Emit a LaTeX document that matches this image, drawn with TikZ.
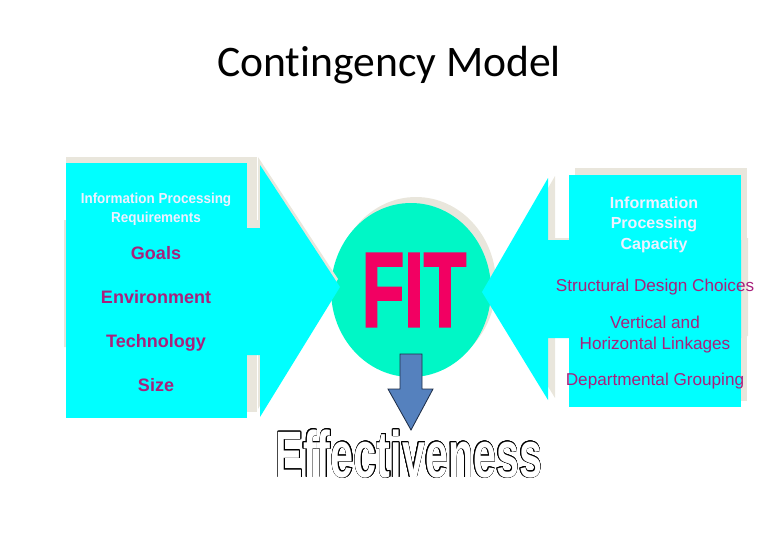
\documentclass[tikz,border=0pt]{standalone}
\usepackage{graphicx}
\usepackage{fontspec}
\setmainfont{Liberation Sans}
\newfontfamily\titlefont[Ligatures=NoCommon]{Carlito}
\newfontfamily\heavyfont[FakeBold=2.5]{Liberation Sans Bold}
\usepackage{contour}
\contourlength{0.7pt}
\definecolor{block-cyan}{HTML}{00FFFF}
\definecolor{shade-beige}{HTML}{E9E6DC}
\definecolor{fit-mint}{HTML}{00F7C6}
\definecolor{fit-red}{HTML}{F20062}
\definecolor{label-purple}{HTML}{A8217C}
\definecolor{down-blue}{HTML}{5581BE}
\definecolor{down-edge}{HTML}{1E2E48}

\begin{document}
\begin{tikzpicture}[x=0.025cm, y=-0.025cm,
      every node/.style={inner sep=0pt},
      head/.style={font=\bfseries\fontsize{10.3}{13}\selectfont, text=white!94!blue, anchor=base},
      factor/.style={font=\bfseries\fontsize{12.8}{15}\selectfont, text=label-purple, anchor=base},
      choice/.style={font=\fontsize{12.2}{15}\selectfont, text=label-purple, anchor=base}]
  \useasboundingbox (0,0) rectangle (780,540);
  \node[font=\titlefont\fontsize{31}{36}\selectfont, anchor=base] (title) at (389,76) {Contingency Model};

  \fill[shade-beige] (416,284) ellipse (80 and 87);
  \fill[fit-mint] (411,290) ellipse (80 and 87);

  \fill[shade-beige] (64,220) -- (258,220) -- (258,157) -- (338,279) -- (258,409) -- (258,347) -- (64,347) -- cycle;
  \fill[shade-beige] (66,157) rectangle (257,412);
  \fill[block-cyan] (66,228) -- (260,228) -- (260,165) -- (340,287) -- (260,417) -- (260,355) -- (66,355) -- cycle;
  \fill[block-cyan] (66,163) rectangle (247,418);

  \fill[shade-beige] (489,290) -- (555,176) -- (555,238) -- (748,238) -- (748,336) -- (555,336) -- (555,398) -- cycle;
  \fill[shade-beige] (575,168) rectangle (747,401);
  \fill[block-cyan] (482,292) -- (548,178) -- (548,240) -- (741,240) -- (741,338) -- (548,338) -- (548,400) -- cycle;
  \fill[block-cyan] (569,175) rectangle (741,407);

  \filldraw[fill=down-blue, draw=down-edge, line width=0.6pt]
    (400,354) -- (422,354) -- (422,389) -- (433,389) -- (411,430) -- (388,389) -- (400,389) -- cycle;

  \node[font=\heavyfont\fontsize{75}{75}\selectfont, text=fit-red] (fit) at (414,290)
    {\scalebox{0.66}[1]{FIT}};
  \node[font=\bfseries\fontsize{46.7}{50}\selectfont, text=white, anchor=base] (effect) at (409,477)
    {\scalebox{0.63}[1]{\contour{black}{Effectiveness}}};

  \foreach \txt/\yy [count=\i] in {Information Processing/203, Requirements/222}
    \node[head] (req\i) at (156,\yy) {\scalebox{0.93}[1]{\txt}};
  \foreach \txt/\yy [count=\i] in {Goals/259, Environment/303, Technology/347, Size/391}
    \node[factor] (factor\i) at (156,\yy) {\txt};

  \foreach \txt/\yy [count=\i] in {Information/208, Processing/228, Capacity/249}
    \node[head, font=\bfseries\fontsize{11.4}{14}\selectfont] (cap\i) at (654,\yy) {\txt};
  \foreach \txt/\yy [count=\i] in {Structural Design Choices/291, Vertical and/328, Horizontal Linkages/349, Departmental Grouping/385}
    \node[choice] (choice\i) at (655,\yy) {\txt};
\end{tikzpicture}
\end{document}
